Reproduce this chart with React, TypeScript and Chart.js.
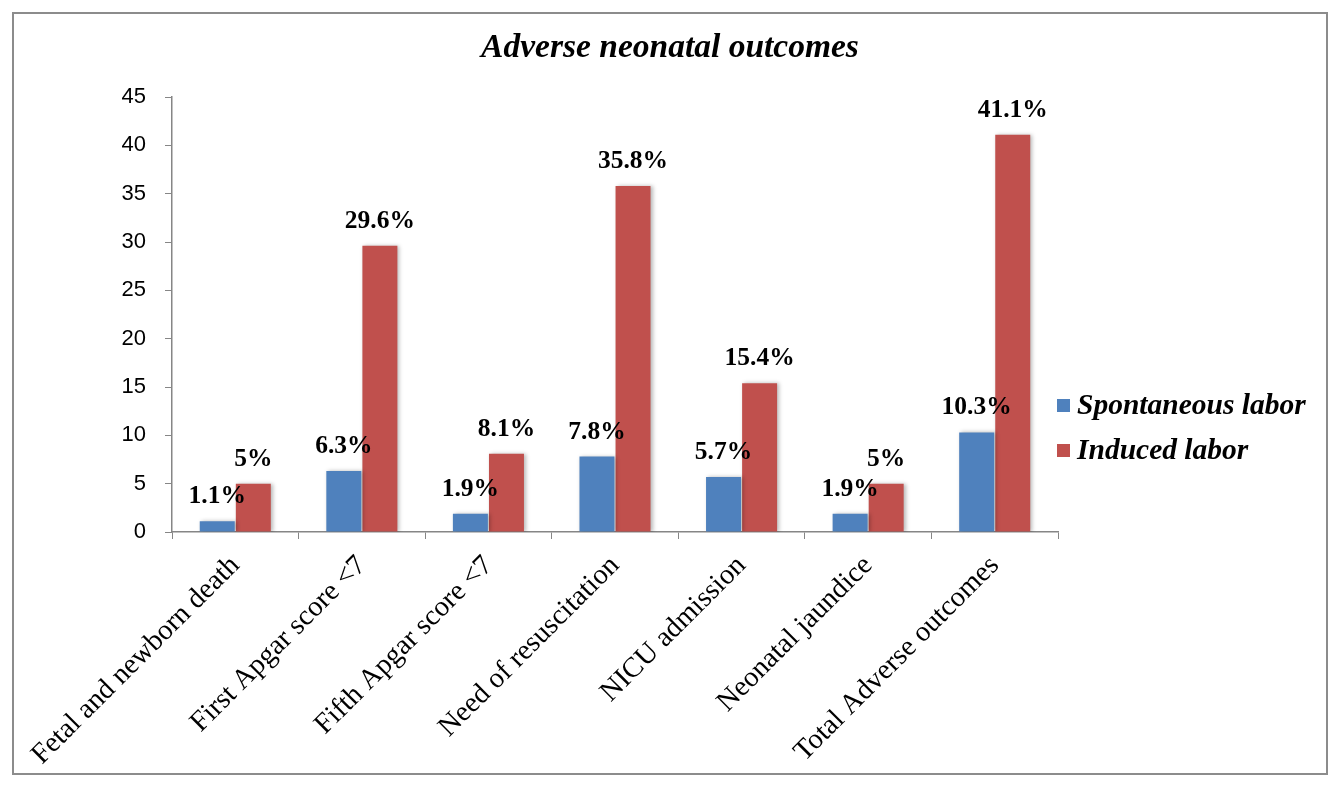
import React, { useEffect, useRef } from "react";
import { Chart, registerables } from "chart.js";

Chart.register(...registerables);

const categories = [
  "Fetal and newborn death",
  "First Apgar score <7",
  "Fifth Apgar score <7",
  "Need of resuscitation",
  "NICU admission",
  "Neonatal jaundice",
  "Total Adverse outcomes",
];
const spontaneous = [1.1, 6.3, 1.9, 7.8, 5.7, 1.9, 10.3];
const induced = [5, 29.6, 8.1, 35.8, 15.4, 5, 41.1];
const seriesNames = ["Spontaneous labor", "Induced labor"];
const seriesColors = ["#4F81BD", "#C0504D"];
const yTicks = [0, 5, 10, 15, 20, 25, 30, 35, 40, 45];
const titleText = "Adverse neonatal outcomes";

const SERIF = "'Liberation Serif', 'Times New Roman', serif";

const shadowPlugin = {
  id: "barShadow",
  beforeDatasetsDraw(chart: any) {
    const ctx = chart.ctx;
    ctx.save();
    ctx.shadowColor = "rgba(0,0,0,0.28)";
    ctx.shadowBlur = 4;
    ctx.shadowOffsetX = 2;
    ctx.shadowOffsetY = 0;
  },
  afterDatasetsDraw(chart: any) {
    chart.ctx.restore();
  },
};

const labelsPlugin = {
  id: "valueLabels",
  afterDatasetsDraw(chart: any) {
    const ctx = chart.ctx;
    ctx.save();
    ctx.font = `bold 25.5px ${SERIF}`;
    ctx.fillStyle = "#000";
    ctx.textAlign = "center";
    ctx.textBaseline = "alphabetic";
    chart.data.datasets.forEach((ds: any, di: number) => {
      const meta = chart.getDatasetMeta(di);
      meta.data.forEach((el: any, i: number) => {
        ctx.fillText(`${ds.data[i]}%`, el.x, el.y - 18);
      });
    });
    ctx.restore();
  },
};

const titleLegendPlugin = {
  id: "titleLegend",
  afterDraw(chart: any) {
    const ctx = chart.ctx;
    const area = chart.chartArea;
    ctx.save();
    ctx.fillStyle = "#000";
    ctx.font = `bold italic 33.5px ${SERIF}`;
    ctx.textAlign = "center";
    ctx.textBaseline = "middle";
    ctx.fillText(titleText, chart.width / 2, 34);

    ctx.font = `bold italic 29.5px ${SERIF}`;
    ctx.textBaseline = "middle";
    ctx.textAlign = "left";
    chart.data.datasets.forEach((ds: any, di: number) => {
      const cy = area.bottom - 127 + di * 45;
      const x = area.right - 1;
      ctx.fillStyle = ds.backgroundColor;
      ctx.fillRect(x, cy - 6, 13, 13);
      ctx.fillStyle = "#000";
      ctx.fillText(ds.label, x + 20, cy + 1);
    });
    ctx.restore();
  },
};

export default function App() {
  const ref = useRef<HTMLCanvasElement | null>(null);
  useEffect(() => {
    if (!ref.current) return;
    const chart = new Chart(ref.current, {
      type: "bar",
      data: {
        labels: categories,
        datasets: [
          { label: seriesNames[0], data: spontaneous, backgroundColor: seriesColors[0] },
          { label: seriesNames[1], data: induced, backgroundColor: seriesColors[1] },
        ],
      },
      options: {
        animation: false,
        responsive: false,
        categoryPercentage: 0.57,
        barPercentage: 0.97,
        layout: { padding: { left: 88, right: 268, top: 83, bottom: 0 } },
        plugins: {
          legend: { display: false },
          tooltip: { enabled: false },
          title: { display: false },
        },
        scales: {
          x: {
            grid: { display: true, drawOnChartArea: false, drawTicks: true, tickLength: 7, color: "#868686", offset: true },
            border: { display: true, color: "#868686", width: 1.5 },
            ticks: {
              color: "#000",
              font: { family: SERIF, size: 28.5 },
              minRotation: 45,
              maxRotation: 45,
              padding: 10,
              autoSkip: false,
            },
            afterFit(scale: any) {
              scale.height = 241;
            },
          },
          y: {
            min: 0,
            max: 45,
            afterBuildTicks(scale: any) {
              scale.ticks = yTicks.map((v) => ({ value: v }));
            },
            grid: { display: true, drawOnChartArea: false, drawTicks: true, tickLength: 7, color: "#868686" },
            border: { display: true, color: "#868686", width: 1.5 },
            ticks: {
              color: "#000",
              font: { family: "'Liberation Sans', Arial, sans-serif", size: 22 },
              padding: 19,
            },
            afterFit(scale: any) {
              scale.width = 70;
            },
          },
        },
      },
      plugins: [shadowPlugin, labelsPlugin, titleLegendPlugin],
    });
    return () => chart.destroy();
  }, []);
  return (
    <div
      style={{
        position: "absolute",
        left: 12,
        top: 12,
        width: 1316,
        height: 763,
        border: "2px solid #8c8c8c",
        boxSizing: "border-box",
        background: "#fff",
      }}
    >
      <canvas ref={ref} width={1312} height={759} style={{ display: "block" }} />
    </div>
  );
}
